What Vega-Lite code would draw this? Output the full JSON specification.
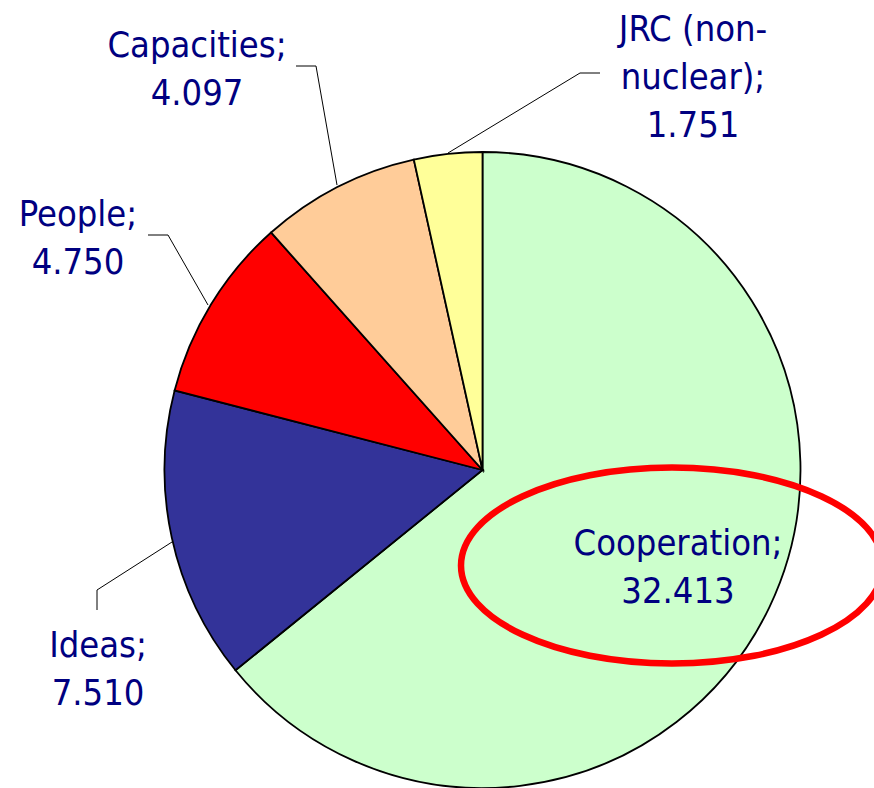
{
  "$schema": "https://vega.github.io/schema/vega-lite/v6.json",
  "width": 637,
  "height": 636,
  "autosize": {"type": "none"},
  "padding": {"left": 164, "top": 152, "right": 73, "bottom": 0},
  "background": "white",
  "config": {"view": {"stroke": null}},
  "data": {
    "values": [
      {"name": "Cooperation", "value": 32.413, "label": "Cooperation;\n32.413"},
      {"name": "Ideas", "value": 7.510, "label": "Ideas;\n7.510"},
      {"name": "People", "value": 4.750, "label": "People;\n4.750"},
      {"name": "Capacities", "value": 4.097, "label": "Capacities;\n4.097"},
      {"name": "JRC", "value": 1.751, "label": "JRC (non-\nnuclear);\n1.751"}
    ]
  },
  "layer": [
    {
      "mark": {"type": "arc", "radius": 318, "stroke": "#000000", "strokeWidth": 1.8},
      "encoding": {
        "theta": {"field": "value", "type": "quantitative", "stack": true},
        "order": {"field": "value", "type": "quantitative", "sort": "descending"},
        "color": {
          "field": "name", "type": "nominal", "legend": null,
          "scale": {
            "domain": ["Cooperation", "Ideas", "People", "Capacities", "JRC"],
            "range": ["#CCFFCC", "#333399", "#FF0000", "#FFCC99", "#FFFF99"]
          }
        }
      }
    },
    {
      "transform": [{"filter": "datum.name !== 'Cooperation'"}],
      "mark": {"type": "point", "size": 40000, "filled": false, "stroke": "#000000", "strokeWidth": 1, "opacity": 1},
      "encoding": {
        "shape": {
          "field": "name", "type": "nominal", "legend": null,
          "scale": {
            "domain": ["Ideas", "People", "Capacities", "JRC"],
            "range": [
              "M -3.105 0.72 L -3.855 1.2 L -3.855 1.4",
              "M -2.745 -1.65 L -3.145 -2.35 L -3.345 -2.35",
              "M -1.455 -2.85 L -1.665 -4.04 L -1.865 -4.04",
              "M -0.345 -3.17 L 0.975 -3.97 L 1.175 -3.97"
            ]
          }
        }
      }
    },
    {
      "transform": [{"filter": "datum.name === 'Cooperation'"}],
      "mark": {
        "type": "point",
        "shape": "M -0.215 0.955 A 2.11 0.98 0 1 0 4.005 0.955 A 2.11 0.98 0 1 0 -0.215 0.955 Z",
        "size": 40000, "filled": false, "stroke": "#FF0000", "strokeWidth": 6.5, "opacity": 1
      },
      "encoding": {}
    },
    {
      "mark": {"type": "text", "radius": 218.9, "dx": -2.1, "dy": -19.8, "font": "DejaVu Sans Condensed, DejaVu Sans", "fontSize": 36, "fill": "#000080", "lineBreak": "\n", "lineHeight": 48, "align": "center", "baseline": "middle"},
      "encoding": {
        "theta": {"field": "value", "type": "quantitative", "stack": true},
        "order": {"field": "value", "type": "quantitative", "sort": "descending"},
        "text": {"condition": {"test": "datum.name === 'Cooperation'", "field": "label", "type": "nominal"}, "value": ""}
      }
    },
    {
      "mark": {"type": "text", "radius": 433.2, "dx": 38.8, "dy": 83.4, "font": "DejaVu Sans Condensed, DejaVu Sans", "fontSize": 36, "fill": "#000080", "lineBreak": "\n", "lineHeight": 48, "align": "center", "baseline": "middle"},
      "encoding": {
        "theta": {"field": "value", "type": "quantitative", "stack": true},
        "order": {"field": "value", "type": "quantitative", "sort": "descending"},
        "text": {"condition": {"test": "datum.name === 'Ideas'", "field": "label", "type": "nominal"}, "value": ""}
      }
    },
    {
      "mark": {"type": "text", "radius": 466.1, "dx": -6.7, "dy": -12.6, "font": "DejaVu Sans Condensed, DejaVu Sans", "fontSize": 36, "fill": "#000080", "lineBreak": "\n", "lineHeight": 48, "align": "center", "baseline": "middle"},
      "encoding": {
        "theta": {"field": "value", "type": "quantitative", "stack": true},
        "order": {"field": "value", "type": "quantitative", "sort": "descending"},
        "text": {"condition": {"test": "datum.name === 'People'", "field": "label", "type": "nominal"}, "value": ""}
      }
    },
    {
      "mark": {"type": "text", "radius": 491.5, "dx": -61.8, "dy": 13.6, "font": "DejaVu Sans Condensed, DejaVu Sans", "fontSize": 36, "fill": "#000080", "lineBreak": "\n", "lineHeight": 48, "align": "center", "baseline": "middle"},
      "encoding": {
        "theta": {"field": "value", "type": "quantitative", "stack": true},
        "order": {"field": "value", "type": "quantitative", "sort": "descending"},
        "text": {"condition": {"test": "datum.name === 'Capacities'", "field": "label", "type": "nominal"}, "value": ""}
      }
    },
    {
      "mark": {"type": "text", "radius": 445.2, "dx": 258.9, "dy": 2.3, "font": "DejaVu Sans Condensed, DejaVu Sans", "fontSize": 36, "fill": "#000080", "lineBreak": "\n", "lineHeight": 48, "align": "center", "baseline": "middle"},
      "encoding": {
        "theta": {"field": "value", "type": "quantitative", "stack": true},
        "order": {"field": "value", "type": "quantitative", "sort": "descending"},
        "text": {"condition": {"test": "datum.name === 'JRC'", "field": "label", "type": "nominal"}, "value": ""}
      }
    }
  ]
}
